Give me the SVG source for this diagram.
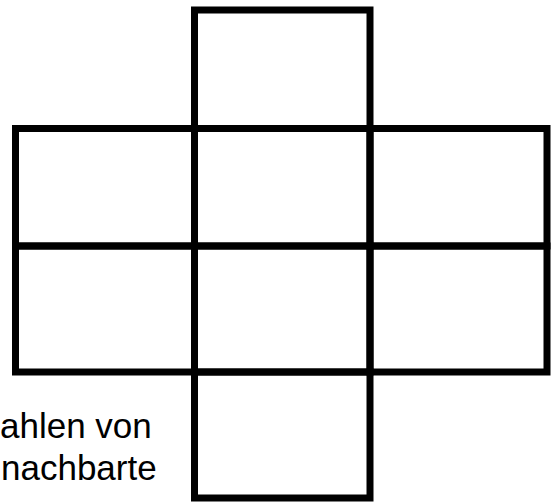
<svg xmlns="http://www.w3.org/2000/svg" width="557" height="502" viewBox="0 0 557 502">
  <style>
    .cell { fill: none; stroke: #000000; stroke-width: 7; stroke-linejoin: miter; }
    .label { font-family: "Liberation Sans", Arial, sans-serif; font-size: 35px; fill: #000000; }
  </style>
  <rect x="0" y="0" width="557" height="502" fill="#ffffff"/>
  <g id="cell-top"><rect class="cell" x="194.5" y="10" width="175.5" height="118.5"/></g>
  <g id="cell-r1-left"><rect class="cell" x="15.5" y="128.5" width="179" height="117.5"/></g>
  <g id="cell-r1-center"><rect class="cell" x="194.5" y="128.5" width="175.5" height="117.5"/></g>
  <g id="cell-r1-right"><rect class="cell" x="370" y="128.5" width="177" height="117.5"/></g>
  <g id="cell-r2-left"><rect class="cell" x="15.5" y="246" width="179" height="126"/></g>
  <g id="cell-r2-center"><rect class="cell" x="194.5" y="246" width="175.5" height="126"/></g>
  <g id="cell-r2-right"><rect class="cell" x="370" y="246" width="177" height="126"/></g>
  <g id="cell-bottom"><rect class="cell" x="194.5" y="372" width="175.5" height="126"/></g>
  <g id="connectors"></g>
  <g id="caption">
    <text class="label" x="0" y="438">ahlen von</text>
    <text class="label" x="1" y="480">nachbarte</text>
  </g>
</svg>
